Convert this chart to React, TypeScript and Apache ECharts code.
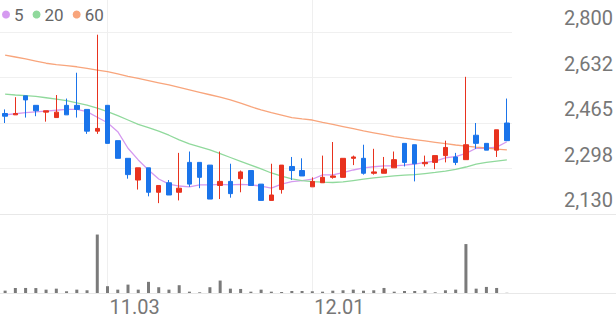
import React, { useEffect, useRef } from "react";
import * as echarts from "echarts";

const dates = [
  "10.20", "10.21", "10.22", "10.23", "10.24", "10.27", "10.28", "10.29", "10.30", "10.31",
  "11.03", "11.04", "11.05", "11.06", "11.07", "11.10", "11.11", "11.12", "11.13", "11.14",
  "11.17", "11.18", "11.19", "11.20", "11.21", "11.24", "11.25", "11.26", "11.27", "11.28",
  "12.01", "12.02", "12.03", "12.04", "12.05", "12.08", "12.09", "12.10", "12.11", "12.12",
  "12.15", "12.16", "12.17", "12.18", "12.19", "12.22", "12.23", "12.24", "12.26", "12.29",
];

const opens = [
  2500, 2495, 2565, 2530, 2505, 2485, 2530, 2530, 2515, 2435,
  2530, 2400, 2335, 2255, 2300, 2210, 2245, 2210, 2320, 2320,
  2310, 2235, 2250, 2260, 2290, 2240, 2180, 2220, 2305, 2290,
  2230, 2245, 2265, 2265, 2335, 2335, 2280, 2280, 2300, 2390,
  2385, 2315, 2320, 2345, 2340, 2330, 2420, 2390, 2365, 2465,
];
const closes = [
  2490, 2500, 2550, 2510, 2510, 2505, 2495, 2515, 2435, 2445,
  2390, 2335, 2275, 2300, 2210, 2235, 2200, 2225, 2240, 2265,
  2185, 2250, 2205, 2285, 2235, 2180, 2200, 2310, 2290, 2270,
  2250, 2265, 2270, 2335, 2340, 2280, 2285, 2295, 2330, 2320,
  2315, 2320, 2345, 2375, 2320, 2385, 2390, 2365, 2440, 2400,
];
const lows = [
  2465, 2495, 2485, 2490, 2470, 2485, 2495, 2485, 2425, 2425,
  2390, 2335, 2260, 2220, 2195, 2170, 2200, 2180, 2230, 2225,
  2185, 2185, 2190, 2210, 2235, 2180, 2180, 2205, 2255, 2270,
  2230, 2245, 2260, 2265, 2310, 2275, 2275, 2280, 2300, 2305,
  2250, 2305, 2295, 2320, 2310, 2330, 2370, 2365, 2340, 2400,
];
const highs = [
  2515, 2560, 2565, 2530, 2510, 2568, 2555, 2650, 2515, 2790,
  2530, 2400, 2335, 2300, 2300, 2235, 2255, 2355, 2360, 2320,
  2310, 2360, 2315, 2290, 2290, 2240, 2315, 2310, 2340, 2335,
  2265, 2345, 2395, 2335, 2345, 2385, 2370, 2340, 2360, 2390,
  2385, 2345, 2345, 2400, 2355, 2635, 2465, 2390, 2440, 2555,
];

const volumes = [
  240, 510, 510, 500, 340, 440, 175, 340, 275, 5920,
  690, 340, 850, 340, 1130, 585, 340, 790, 135, 70,
  585, 1260, 440, 410, 135, 340, 135, 100, 205, 205,
  175, 135, 235, 275, 340, 235, 275, 510, 135, 205,
  205, 275, 70, 275, 340, 4955, 440, 615, 510, 20,
];

const ma5 = [
  2495, 2499, 2503, 2506, 2509, 2512, 2515, 2515, 2507, 2486,
  2466, 2433, 2372, 2329, 2292, 2259, 2240, 2233, 2230, 2237,
  2237, 2239, 2237, 2239, 2237, 2233, 2225, 2240, 2249, 2253,
  2258, 2274, 2274, 2282, 2292, 2300, 2304, 2307, 2307, 2310,
  2314, 2320, 2325, 2337, 2341, 2353, 2372, 2372, 2376, 2396,
];
const ma20 = [
  2571, 2568, 2566, 2563, 2558, 2553, 2547, 2539, 2531, 2520,
  2507, 2492, 2476, 2460, 2448, 2435, 2420, 2403, 2388, 2377,
  2366, 2352, 2338, 2324, 2310, 2296, 2281, 2269, 2259, 2253,
  2249, 2247, 2246, 2248, 2253, 2258, 2263, 2267, 2270, 2273,
  2275, 2279, 2283, 2288, 2294, 2303, 2314, 2320, 2325, 2329,
];
const ma60 = [
  2715, 2708, 2701, 2693, 2685, 2680, 2676, 2672, 2666, 2660,
  2654, 2646, 2637, 2629, 2621, 2613, 2605, 2596, 2587, 2578,
  2569, 2560, 2550, 2538, 2525, 2513, 2503, 2494, 2485, 2480,
  2476, 2467, 2460, 2452, 2444, 2436, 2429, 2422, 2415, 2409,
  2404, 2399, 2394, 2389, 2384, 2380, 2376, 2373, 2369, 2366,
];

const priceTicks = [2130, 2297.5, 2465, 2632.5, 2800];
const priceTickLabels = ["2,130", "2,298", "2,465", "2,632", "2,800"];
const shownDates = ["11.03", "12.01"];
const maNames = ["5", "20", "60"];

const UP = "#e8321e";
const DOWN = "#1a74ea";
const MA_COLORS = ["#d59af0", "#90d99c", "#f8a57c"];

export default function App() {
  const ref = useRef<HTMLDivElement>(null);

  useEffect(() => {
    if (!ref.current) return;
    const chart = echarts.init(ref.current, undefined, { renderer: "svg" });
    const candleData = dates.map((_, i) => [opens[i], closes[i], lows[i], highs[i]]);
    const showIdx = (i: number) => shownDates.includes(dates[i]);
    const font = "Roboto, 'Noto Sans', sans-serif";

    chart.setOption({
      animation: false,
      legend: {
        data: maNames,
        left: 0,
        top: 6,
        padding: [0, 0, 0, 2],
        icon: "circle",
        itemWidth: 8,
        itemHeight: 8,
        itemGap: 9,
        textStyle: { fontSize: 17, color: "#666", fontFamily: font, padding: [0, 0, 0, -1] },
      },
      grid: [
        { left: 0, top: 32, width: 512, height: 182 },
        { left: 0, top: 214, width: 512, height: 79 },
        { left: 0, right: 0, top: 214, height: 79 },
      ],
      xAxis: [
        {
          type: "category",
          gridIndex: 0,
          data: dates,
          axisLine: { show: false },
          axisTick: { show: false },
          axisLabel: { show: false },
          splitLine: { show: false },
        },
        {
          type: "category",
          gridIndex: 1,
          data: dates,
          axisLine: { show: false },
          axisTick: {
            show: true,
            inside: true,
            length: 293,
            alignWithLabel: true,
            interval: (i: number) => showIdx(i),
            lineStyle: { color: "#efefef", width: 1 },
          },
          axisLabel: {
            show: true,
            interval: (i: number) => showIdx(i),
            align: "left",
            margin: 4,
            padding: [0, 0, 0, 2],
            fontSize: 20,
            color: "#777",
            fontFamily: font,
          },
          splitLine: { show: false },
        },
        { type: "value", gridIndex: 2, min: 0, max: 1, show: false },
      ],
      yAxis: [
        {
          type: "value",
          gridIndex: 0,
          position: "right",
          min: priceTicks[0],
          max: priceTicks[priceTicks.length - 1],
          interval: priceTicks[1] - priceTicks[0],
          axisLine: { show: false },
          axisTick: { show: false },
          axisLabel: {
            show: true,
            align: "right",
            verticalAlign: "bottom",
            margin: 101,
            padding: [0, 0, 4, 0],
            fontSize: 20,
            color: "#777",
            fontFamily: font,
            formatter: (_v: number, idx: number) => priceTickLabels[idx] ?? "",
          },
          splitLine: { show: true, lineStyle: { color: "#f0f0f0" } },
        },
        {
          type: "value",
          gridIndex: 1,
          min: 0,
          max: 8000,
          show: false,
          splitLine: { show: false },
        },
        {
          type: "value",
          gridIndex: 2,
          min: 0,
          max: 1,
          interval: 1,
          axisLine: { show: false },
          axisTick: { show: false },
          axisLabel: { show: false },
          splitLine: { show: true, lineStyle: { color: "#e8e8e8" } },
        },
      ],
      series: [
        {
          type: "candlestick",
          xAxisIndex: 0,
          yAxisIndex: 0,
          data: candleData,
          barWidth: 5,
          itemStyle: {
            color: UP,
            color0: DOWN,
            borderColor: UP,
            borderColor0: DOWN,
            borderWidth: 1,
          },
        },
        ...maNames.map((name, k) => ({
          name,
          type: "line",
          xAxisIndex: 0,
          yAxisIndex: 0,
          data: [ma5, ma20, ma60][k],
          symbol: "none",
          color: MA_COLORS[k],
          lineStyle: { width: 1.3, color: MA_COLORS[k] },
          z: 1,
        })),
        {
          type: "bar",
          xAxisIndex: 1,
          yAxisIndex: 1,
          data: volumes,
          barWidth: 3,
          itemStyle: { color: "#7a7a7a" },
        },
      ],
    });

    return () => chart.dispose();
  }, []);

  return (
    <div
      ref={ref}
      style={{ position: "absolute", left: 0, top: 0, width: 616, height: 321 }}
    />
  );
}
